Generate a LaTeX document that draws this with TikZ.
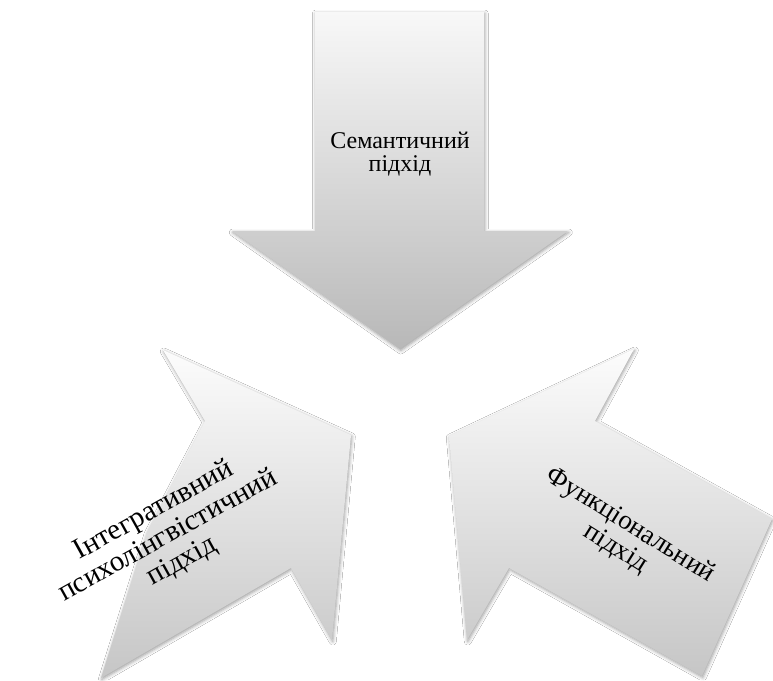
\documentclass[tikz,border=0pt]{standalone}
\usepackage{fontspec}
\setmainfont{Liberation Serif}
\usetikzlibrary{shadows.blur}
\definecolor{topLight}{RGB}{248,248,248}
\definecolor{topDark}{RGB}{184,184,184}
\definecolor{sideLight}{RGB}{252,252,252}
\definecolor{sideDark}{RGB}{198,198,198}
\tikzset{
  arrowshape/.style={blur shadow={shadow xshift=0.8pt, shadow yshift=-1.5pt, shadow blur radius=3.5pt, shadow opacity=40}},
  toparrow/.style={arrowshape, top color=topLight, bottom color=topDark},
  sidearrow/.style={arrowshape, top color=sideLight, bottom color=sideDark},
  lbl/.style={align=center, text=black, inner sep=0pt}
}
\begin{document}
\begin{tikzpicture}[x=1pt, y=-1pt]
\useasboundingbox (0,0) rectangle (773,680);
\fill[white] (0,0) rectangle (773,680);
% top arrow
\path[toparrow] (315,12) -- (484,12) -- (484,231) -- (568,231) -- (400,349) -- (232,231) -- (315,231) -- cycle;
% left arrow
\path[sidearrow] (147,532) -- (205,421) -- (163,350) -- (351,435) -- (332,640) -- (291,568) -- (101,678) -- cycle;
% right arrow
\path[sidearrow] (449,436) -- (634,349) -- (595,421) -- (772,519) -- (702,676) -- (509,568) -- (467,640) -- cycle;
\node[lbl, font=\fontsize{24}{23}\selectfont] (sem) at (400,154) {Семантичний\\підхід};
\node[lbl, font=\fontsize{29}{29}\selectfont, rotate=29] (integ) at (168,536) {Інтегративний\\психолінгвістичний\\підхід};
\node[lbl, font=\fontsize{27}{27}\selectfont, rotate=-32] (func) at (623,537) {Функціональний\\підхід};
\end{tikzpicture}
\end{document}
